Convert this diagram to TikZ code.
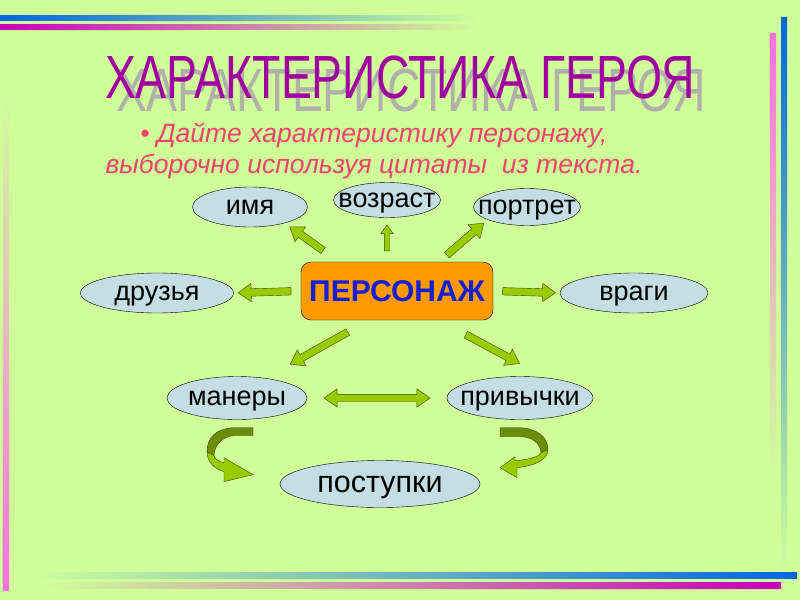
\documentclass[tikz,border=0pt]{standalone}
\usepackage{fontspec}
\setmainfont{Liberation Sans}
\newfontfamily\titlefont[FakeStretch=0.76]{Liberation Sans}
\usetikzlibrary{shapes.geometric,shapes.arrows}

\definecolor{bg}{RGB}{208,255,154}
\definecolor{oval}{RGB}{196,222,228}
\definecolor{leaf}{RGB}{153,204,0}
\definecolor{darkleaf}{RGB}{108,140,12}
\definecolor{rim}{RGB}{60,75,0}
\definecolor{barblue}{RGB}{0,102,230}
\definecolor{barpink}{RGB}{200,0,190}
\definecolor{lightpink}{RGB}{255,110,230}
\definecolor{titlepurple}{RGB}{160,0,160}
\definecolor{shade}{RGB}{176,178,170}
\definecolor{quote}{RGB}{238,68,110}
\definecolor{herotext}{RGB}{20,30,210}
\definecolor{herofill}{RGB}{255,153,0}

\begin{document}
\begin{tikzpicture}[x=1pt, y=-1pt,
    trait/.style = {ellipse, draw, fill=oval, inner sep=0pt},
    every label/.style = {font=\fontsize{27}{32}\selectfont, text height=14pt, text depth=0pt},
    hero/.style = {rectangle, rounded corners=10pt, draw, fill=herofill, minimum width=192pt, minimum height=58pt, font=\bfseries\fontsize{30}{36}\selectfont, text=herotext},
    hint/.style = {single arrow, draw=rim, fill=leaf, sloped, allow upside down, inner sep=3.5pt, single arrow head extend=5.5pt, single arrow tip angle=70, minimum height=#1},
    twohint/.style = {double arrow, draw=rim, fill=leaf, sloped, inner sep=3.5pt, double arrow head extend=5.5pt, double arrow tip angle=70, minimum height=#1},
    ribbonback/.style = {fill=darkleaf, draw=rim, line join=round},
    ribbonfront/.style = {fill=leaf, draw=rim, line join=round}]

    % background
    \useasboundingbox[fill=bg] (0,0) rectangle (800,600);
    \shade[left color=barblue, middle color=barblue!55!bg, right color=bg] (0,15) rectangle (480,20);
    \shade[left color=barpink, middle color=barpink!55!bg, right color=bg] (0,24) rectangle (480,29);
    \shade[top color=barblue, bottom color=bg] (781,17) rectangle (787,572);
    \shade[top color=lightpink, bottom color=bg] (770,33) rectangle (776,480);
    \shade[top color=bg, bottom color=lightpink] (3,90) rectangle (9,590);
    \shade[left color=bg, middle color=barblue!55!bg, right color=barblue] (30,572) rectangle (797,578);
    \shade[left color=bg, middle color=barpink!55!bg, right color=barpink] (40,582) rectangle (781,588);

    % title
    \node[font=\titlefont\fontsize{61}{70}\selectfont, text=shade] (shadow) at (411,90) {ХАРАКТЕРИСТИКА ГЕРОЯ};
    \node[font=\titlefont\fontsize{61}{70}\selectfont, text=titlepurple] (title) at (400,77) {ХАРАКТЕРИСТИКА ГЕРОЯ};
    \node[font=\itshape\fontsize{26.5}{31}\selectfont, text=quote, align=center] (task) at (374,151) {• Дайте характеристику персонажу,\\выборочно используя цитаты~ из текста.};

    % ovals
    \node[hero] (pers) at (397,291) {ПЕРСОНАЖ};
    \node[trait, minimum width=115pt, minimum height=40pt, label=center:имя] (imya) at (250,207) {};
    \node[trait, minimum width=107pt, minimum height=35pt, label=center:возраст] (vozr) at (387,200) {};
    \node[trait, minimum width=107pt, minimum height=37pt, label=center:портрет] (portr) at (527,207) {};
    \node[trait, minimum width=153pt, minimum height=40pt, label=center:друзья] (druz) at (157,293) {};
    \node[trait, minimum width=148pt, minimum height=40pt, label=center:враги] (vragi) at (634,293) {};
    \node[trait, minimum width=140pt, minimum height=43pt, label=center:манеры] (maner) at (237,398) {};
    \node[trait, minimum width=146pt, minimum height=43pt, label=center:привычки] (priv) at (520,398) {};
    \node[trait, minimum width=200pt, minimum height=47pt, label={[font=\fontsize{30.5}{36}\selectfont, text height=16pt]center:поступки}] (postup) at (380,484) {};

    % arrows
    \path ([xshift=-58pt]pers.north) -- (imya.-25) node[hint=41pt, pos=.56] {};
    \path (pers.north -| vozr) -- (vozr.south) node[hint=26pt, pos=.5, inner sep=2.5pt, single arrow head extend=3.5pt] {};
    \path ([xshift=42pt]pers.north) -- (portr.198) node[hint=49pt, pos=.5] {};
    \path (pers.west) -- (druz.east) node[hint=53pt, pos=.5] {};
    \path (pers.east) -- (vragi.west) node[hint=53pt, pos=.5] {};
    \path ([xshift=-28pt]pers.south) -- (maner.35) node[hint=66pt, pos=.46] {};
    \path ([xshift=42pt]pers.south) -- (priv.38) node[hint=61pt, pos=.48] {};
    \path (maner.east) -- (priv.west) node[twohint=106pt, pos=.5] {};

    % curved arrows to postup
    \begin{scope}[shift={(maner.south)}]
        \draw[ribbonback] (16,8) -- (-4,8) .. controls (-21,9) and (-30,18) .. (-30,32) -- (-23,36) .. controls (-23,26) and (-15,17) .. (-4,16) -- (16,16) -- cycle;
        \draw[ribbonfront] (-30,32) .. controls (-30,42) and (-23,49) .. (-13,52) -- (-13,62) -- (16,55) -- (-13,38) -- (-13,43) .. controls (-18,42) and (-23,39) .. (-23,36) -- cycle;
    \end{scope}
    \begin{scope}[shift={(priv.south)}]
        \draw[ribbonback] (-20,8) -- (0,8) .. controls (17,9) and (28,17) .. (28,30) -- (21,33) .. controls (20,23) and (12,17) .. (0,17) -- (-20,17) -- cycle;
        \draw[ribbonfront] (28,30) .. controls (28,40) and (15,46) .. (-3,48) -- (-3,58) -- (-20,48) -- (-5,37) -- (-5,41) .. controls (10,40) and (21,36) .. (21,33) -- cycle;
    \end{scope}

\end{tikzpicture}
\end{document}
